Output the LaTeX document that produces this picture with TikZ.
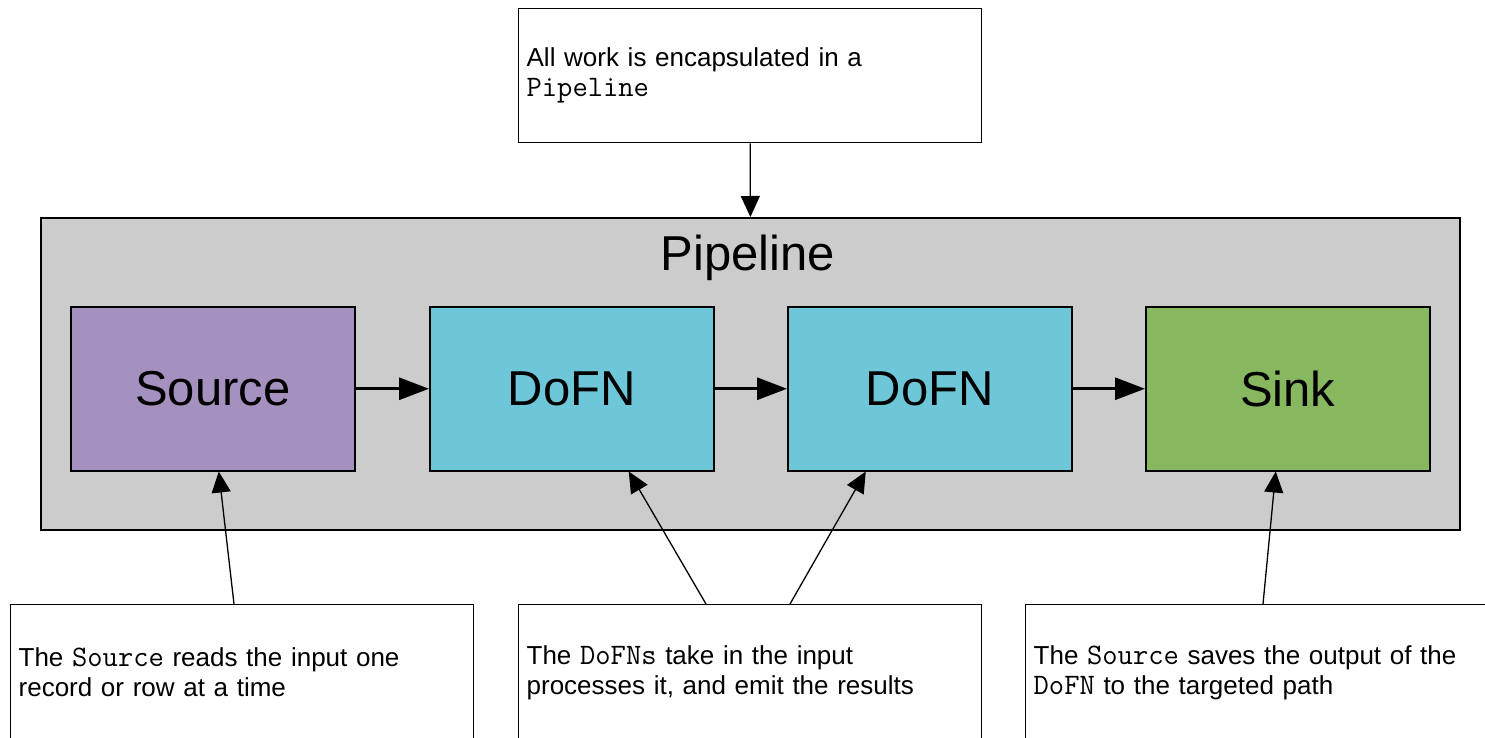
\documentclass[tikz,border=0pt]{standalone}
\usepackage{fontspec}
\setmainfont{Liberation Sans}
\usetikzlibrary{arrows.meta}
\usetikzlibrary{calc}
\definecolor{pipegray}{HTML}{CCCCCC}
\definecolor{srcpurple}{HTML}{A591C0}
\definecolor{dofnblue}{HTML}{6EC6D9}
\definecolor{sinkgreen}{HTML}{87B75E}
\newcommand{\codeword}[1]{{\fontsize{29.7}{30}\selectfont\ttfamily #1}}
\tikzstyle{note} = [draw=black, line width=1.3pt, fill=white, text width=447pt, inner sep=8pt, align=left, anchor=north west, font=\fontsize{26}{30}\selectfont]
\tikzstyle{arrow} = [line width=1.3pt, -{Triangle[length=21pt,width=19pt]}]

\begin{document}
\begin{tikzpicture}[x=1pt, y=-1pt]
        \tikzstyle{stage} = [draw=black, line width=1.5pt, minimum width=284pt, minimum height=164pt, anchor=north west, font=\fontsize{49}{56}\selectfont]
        \tikzstyle{flow} = [line width=3pt, -{Triangle[length=30pt,width=22pt]}]

        \useasboundingbox (0,0) rectangle (1485,738);
        \clip (0,0) rectangle (1485,738);

        \node (pipe) at (40, 217) [draw=black, line width=1.8pt, fill=pipegray, anchor=north west, minimum width=1419pt, minimum height=312pt] {};
        \node (pipetitle) at (748, 258) [font=\fontsize{49}{56}\selectfont] {Pipeline};

        \node (src) at (70, 306) [stage, fill=srcpurple] {Source};
        \node (dofnA) at (429, 306) [stage, fill=dofnblue] {DoFN};
        \node (dofnB) at (787, 306) [stage, fill=dofnblue] {DoFN};
        \node (sink) at (1145, 306) [stage, fill=sinkgreen] {Sink};

        \draw[flow] (src.east) -- (dofnA.west);
        \draw[flow] (dofnA.east) -- (dofnB.west);
        \draw[flow] (dofnB.east) -- (sink.west);

        \node (topnote) at (518, 8) [note, minimum height=134pt] {All work is encapsulated in a\\\codeword{Pipeline}};
        \node (srcnote) at (10, 604) [note, minimum height=136pt] {The \codeword{Source} reads the input one\\record or row at a time};
        \node (dofnnote) at (518, 604) [note, minimum height=136pt] {The \codeword{DoFNs} take in the input\\processes it, and emit the results};
        \node (sinknote) at (1025, 604) [note, minimum height=136pt, text width=484pt] {The \codeword{Source} saves the output of the\\\codeword{DoFN} to the targeted path};

        \draw[arrow] (topnote.south) -- (pipe.north);
        \draw[arrow] ([xshift=224pt]srcnote.north west) -- ([xshift=6pt]src.south);
        \draw[arrow] ([xshift=188pt]dofnnote.north west) -- ([xshift=57pt]dofnA.south);
        \draw[arrow] ([xshift=272pt]dofnnote.north west) -- ([xshift=-64pt]dofnB.south);
        \draw[arrow] ([xshift=238pt]sinknote.north west) -- ([xshift=-12pt]sink.south);
\end{tikzpicture}
\end{document}
